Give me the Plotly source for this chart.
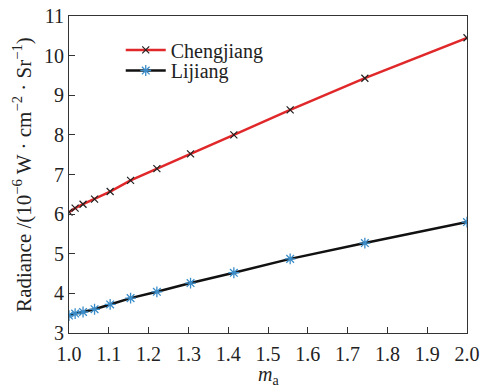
import plotly.graph_objects as go

ma = [1.0, 1.0154, 1.0353, 1.0642, 1.1034, 1.1547, 1.2208, 1.3054, 1.4142, 1.5557, 1.7434, 2.0]
chengjiang = [6.05, 6.15, 6.25, 6.38, 6.57, 6.85, 7.15, 7.52, 8.0, 8.63, 9.43, 10.45]
lijiang = [3.44, 3.49, 3.53, 3.60, 3.72, 3.88, 4.04, 4.26, 4.52, 4.87, 5.27, 5.8]
x_ticks = [1.0, 1.1, 1.2, 1.3, 1.4, 1.5, 1.6, 1.7, 1.8, 1.9, 2.0]
y_ticks = [3, 4, 5, 6, 7, 8, 9, 10, 11]

font = "Liberation Serif"

fig = go.Figure()
fig.add_trace(go.Scatter(
    x=ma, y=chengjiang, name="Chengjiang", mode="lines+markers",
    line=dict(color="#e0282a", width=2.5),
    marker=dict(symbol="x-thin", size=7, line=dict(color="#222222", width=1.2), color="#222222"),
    legend="legend",
))
fig.add_trace(go.Scatter(
    x=ma, y=lijiang, name="Lijiang", mode="lines+markers",
    line=dict(color="#111111", width=2.5),
    marker=dict(symbol="asterisk-open", size=9, line=dict(color="#3a8cc8", width=1.3), color="#3a8cc8"),
    legend="legend2",
))

leg_common = dict(xanchor="left", yanchor="middle", bgcolor="rgba(255,255,255,0)",
                  font=dict(size=20, family=font), itemwidth=40)

fig.update_layout(
    width=485, height=387,
    margin=dict(l=69, r=18, t=16, b=54),
    paper_bgcolor="white", plot_bgcolor="white",
    font=dict(family=font, size=20, color="#222222"),
    showlegend=True,
    legend=dict(x=0.13, y=0.893, **leg_common),
    legend2=dict(x=0.13, y=0.828, **leg_common),
    annotations=[dict(text="<i>m</i><sub>a</sub>", xref="paper", yref="paper",
                      x=0.5, y=-0.135, xanchor="center", yanchor="middle",
                      showarrow=False, font=dict(size=20, family=font, color="#222222"))],
)
fig.update_xaxes(
    range=[1.0, 2.0], tickvals=x_ticks, ticktext=[f"{v:.1f}" for v in x_ticks],
    ticks="inside", ticklen=6, tickcolor="#333333", tickwidth=1,
    showline=True, linecolor="#333333", linewidth=1.2, mirror=True,
    showgrid=False, zeroline=False, automargin=False, ticklabelstandoff=3,
    tickfont=dict(size=20, family=font),
)
fig.update_yaxes(
    range=[3, 11], tickvals=y_ticks,
    ticks="inside", ticklen=6, tickcolor="#333333", tickwidth=1,
    showline=True, linecolor="#333333", linewidth=1.2, mirror=True,
    showgrid=False, zeroline=False, automargin=False,
    title=dict(text="Radiance /(10<sup>−6</sup> W · cm<sup>−2</sup> · Sr<sup>−1</sup>)",
               font=dict(size=21, family=font), standoff=6),
    tickfont=dict(size=20, family=font),
)

fig.write_html("out.html")
